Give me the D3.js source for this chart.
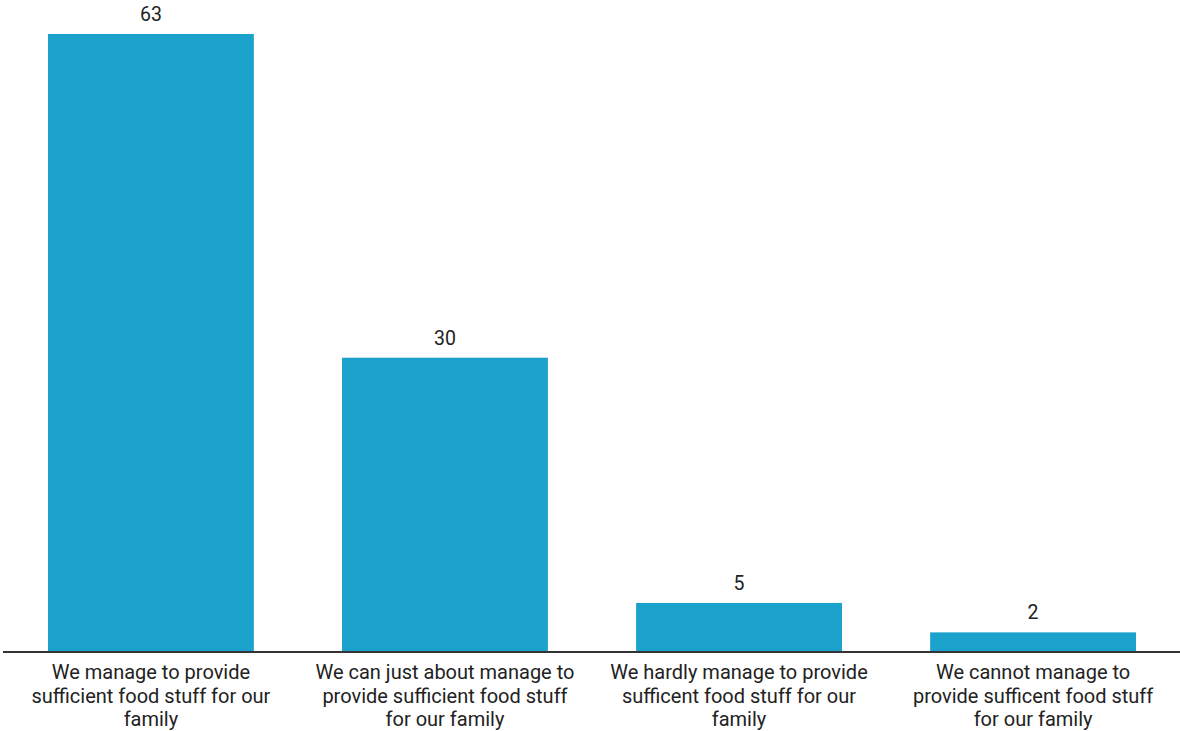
<!DOCTYPE html>
<html><head><meta charset="utf-8">
<script src="https://cdn.jsdelivr.net/npm/d3@7"></script>
<style>body{margin:0;background:#fff}svg{display:block;font-family:Roboto,sans-serif}</style>
</head><body>
<svg id="chart" width="1180" height="731"></svg>
<script>
const categories = [
  ["We manage to provide", "sufficient food stuff for our", "family"],
  ["We can just about manage to", "provide sufficient food stuff", "for our family"],
  ["We hardly manage to provide", "sufficent food stuff for our", "family"],
  ["We cannot manage to", "provide sufficent food stuff", "for our family"]
];
const values = [63, 30, 5, 2];

const svg = d3.select("#chart");
const baseline = 652;
const x = d3.scaleBand().domain(d3.range(categories.length)).range([48, 1136]).paddingInner(0.3).paddingOuter(0);
const y = d3.scaleLinear().domain([0, 63]).range([baseline, 34]);

svg.selectAll("rect.bar").data(values).join("rect")
  .attr("class", "bar")
  .attr("x", (d, i) => x(i))
  .attr("width", x.bandwidth())
  .attr("y", d => y(d))
  .attr("height", d => baseline - y(d))
  .attr("fill", "#1aa1cc");

svg.selectAll("text.val").data(values).join("text")
  .attr("class", "val")
  .attr("x", (d, i) => x(i) + x.bandwidth() / 2)
  .attr("y", d => y(d) - 13)
  .attr("text-anchor", "middle")
  .attr("font-size", 19.5)
  .attr("fill", "#222")
  .text(d => d);

svg.append("line").attr("x1", 3).attr("x2", 1180).attr("y1", baseline).attr("y2", baseline)
  .attr("stroke", "#333").attr("stroke-width", 2);

const lab = svg.selectAll("text.cat").data(categories).join("text")
  .attr("class", "cat")
  .attr("text-anchor", "middle")
  .attr("font-size", 20)
  .attr("fill", "#222");
lab.each(function(lines, i) {
  const t = d3.select(this);
  lines.forEach((l, j) => {
    t.append("tspan").attr("x", x(i) + x.bandwidth() / 2).attr("y", 679 + j * 23.5).text(l);
  });
});
</script>
</body></html>
